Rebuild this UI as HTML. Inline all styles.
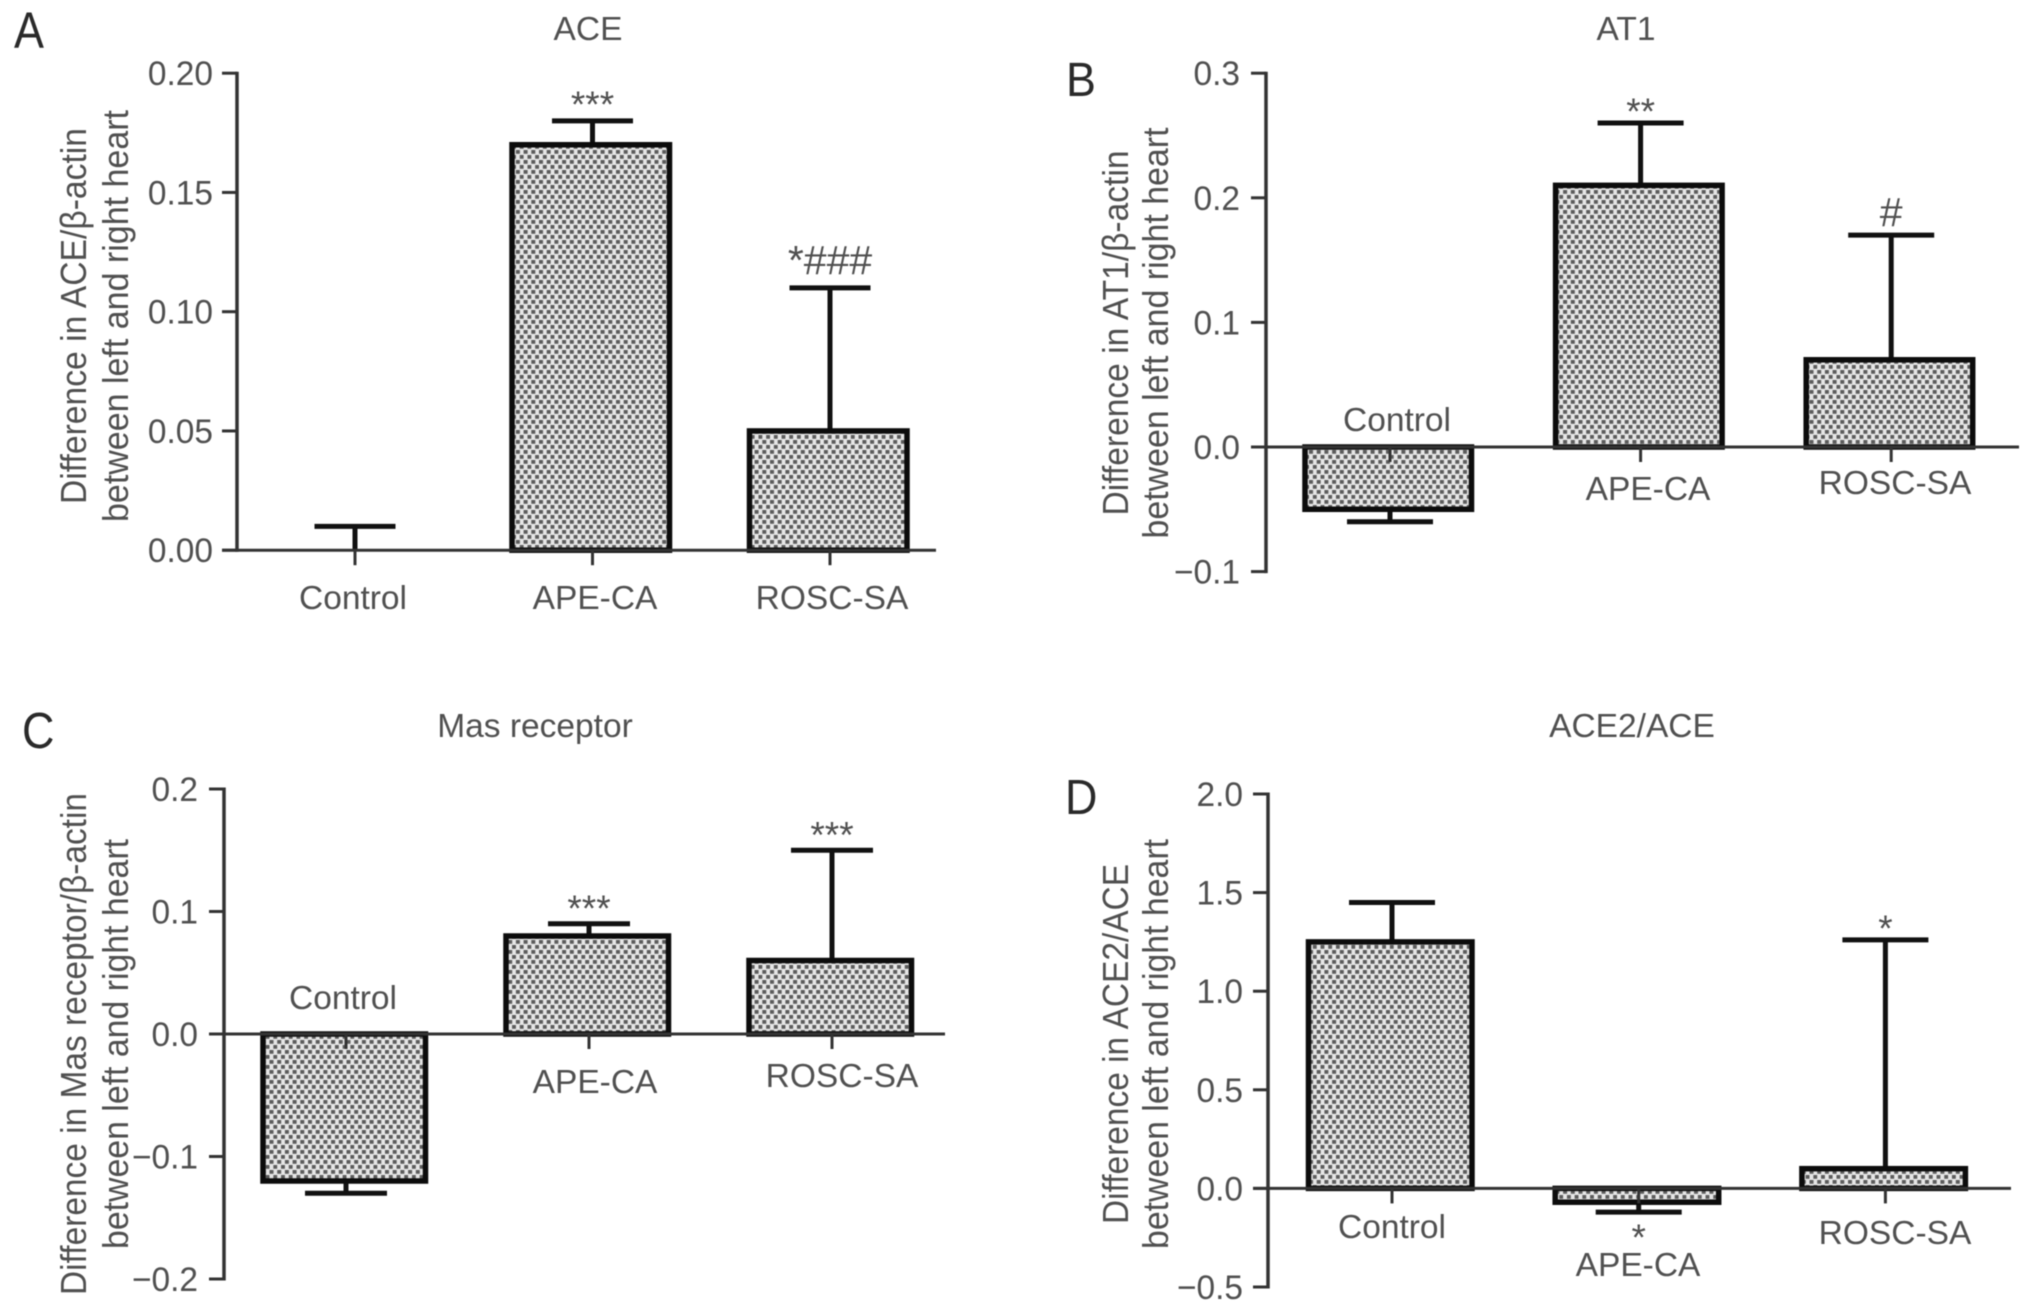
<!DOCTYPE html>
<html lang="en">
<head>
<meta charset="utf-8">
<title>Differences between left and right heart</title>
<style>
html,body{margin:0;padding:0;background:#fff;}
body{width:2032px;height:1311px;overflow:hidden;}
svg{display:block;filter:blur(.6px);}
text{font-family:"Liberation Sans",sans-serif;fill:#505050;}
.lab{font-size:33.5px;text-anchor:middle;}
.ttl{font-size:33.5px;text-anchor:middle;}
.ytitle{font-size:36px;text-anchor:middle;}
.letter{font-size:51px;fill:#2a2a2a;}
</style>
</head>
<body>
<svg id="figure" xmlns="http://www.w3.org/2000/svg" width="2032" height="1311" viewBox="0 0 2032 1311">
<defs>
<pattern id="dots" width="7.7" height="10" patternUnits="userSpaceOnUse">
<rect width="7.7" height="10" fill="#e6e6e6"/>
<rect x="0" y="0" width="4" height="3.8" fill="#5c5c5c"/>
<rect x="3.85" y="5" width="4" height="3.8" fill="#5c5c5c"/>
</pattern>
</defs>
<rect width="2032" height="1311" fill="#fff"/>

<text class="letter" transform="translate(14 48) scale(.88 1)">A</text>
<text class="letter" transform="translate(1066 96) scale(.88 .95)">B</text>
<text class="letter" transform="translate(22 748) scale(.88 1)">C</text>
<text class="letter" transform="translate(1065 814) scale(.88 .97)">D</text>

<text class="ttl" x="588" y="40">ACE</text>
<text class="ttl" x="1626" y="40">AT1</text>
<text class="ttl" x="535" y="737">Mas receptor</text>
<text class="ttl" x="1632" y="737">ACE2/ACE</text>

<text class="ytitle" transform="translate(86 316) rotate(-90)" textLength="376" lengthAdjust="spacingAndGlyphs">Difference in ACE/β-actin</text>
<text class="ytitle" transform="translate(128 316) rotate(-90)" textLength="412" lengthAdjust="spacingAndGlyphs">between left and right heart</text>
<text class="ytitle" transform="translate(1128 333) rotate(-90)" textLength="365" lengthAdjust="spacingAndGlyphs">Difference in AT1/β-actin</text>
<text class="ytitle" transform="translate(1168 333) rotate(-90)" textLength="411" lengthAdjust="spacingAndGlyphs">between left and right heart</text>
<text class="ytitle" transform="translate(86 1044) rotate(-90)" textLength="502" lengthAdjust="spacingAndGlyphs">Difference in Mas receptor/β-actin</text>
<text class="ytitle" transform="translate(128 1044) rotate(-90)" textLength="410" lengthAdjust="spacingAndGlyphs">between left and right heart</text>
<text class="ytitle" transform="translate(1128 1044) rotate(-90)" textLength="360" lengthAdjust="spacingAndGlyphs">Difference in ACE2/ACE</text>
<text class="ytitle" transform="translate(1168 1044) rotate(-90)" textLength="410" lengthAdjust="spacingAndGlyphs">between left and right heart</text>

<text class="lab" x="353" y="609">Control</text>
<text class="lab" x="595" y="609">APE-CA</text>
<text class="lab" x="832" y="609">ROSC-SA</text>
<text class="lab" x="1397" y="431">Control</text>
<text class="lab" x="1648" y="500">APE-CA</text>
<text class="lab" x="1895" y="494">ROSC-SA</text>
<text class="lab" x="343" y="1009">Control</text>
<text class="lab" x="595" y="1093">APE-CA</text>
<text class="lab" x="842" y="1087">ROSC-SA</text>
<text class="lab" x="1392" y="1238">Control</text>
<text class="lab" x="1638" y="1276">APE-CA</text>
<text class="lab" x="1895" y="1244">ROSC-SA</text>
</svg>

<script>
const categories = ['control', 'ape-ca', 'rosc-sa'];

const aceValues = [0, 0.17, 0.05];
const aceErrors = [0.01, 0.01, 0.06];
const aceMarks = ['', '***', '*###'];
const aceTicks = [0, 0.05, 0.10, 0.15, 0.20];
const aceTickLabels = ['0.00', '0.05', '0.10', '0.15', '0.20'];

const at1Values = [-0.05, 0.21, 0.07];
const at1Errors = [0.01, 0.05, 0.10];
const at1Marks = ['', '**', '#'];
const at1Ticks = [-0.1, 0, 0.1, 0.2, 0.3];
const at1TickLabels = ['\u22120.1', '0.0', '0.1', '0.2', '0.3'];

const masValues = [-0.12, 0.08, 0.06];
const masErrors = [0.01, 0.01, 0.09];
const masMarks = ['', '***', '***'];
const masTicks = [-0.2, -0.1, 0, 0.1, 0.2];
const masTickLabels = ['\u22120.2', '\u22120.1', '0.0', '0.1', '0.2'];

const ace2Values = [1.25, -0.07, 0.10];
const ace2Errors = [0.20, 0.05, 1.16];
const ace2Marks = ['', '*', '*'];
const ace2Ticks = [-0.5, 0, 0.5, 1.0, 1.5, 2.0];
const ace2TickLabels = ['\u22120.5', '0.0', '0.5', '1.0', '1.5', '2.0'];

const svg = document.getElementById('figure');
const NS = 'http://www.w3.org/2000/svg';

function make(tag, attrs) {
  const el = document.createElementNS(NS, tag);
  for (const k in attrs) el.setAttribute(k, attrs[k]);
  svg.appendChild(el);
  return el;
}

function drawPanel(id, values, errors, marks, ticks, tickLabels, box) {
  const lo = ticks[0];
  const hi = ticks[ticks.length - 1];
  const yScale = v => box.bottom + (v - lo) / (hi - lo) * (box.top - box.bottom);
  const xScale = i => box.firstCenter + i * box.step;
  const zero = yScale(0);

  values.forEach((v, i) => {
    const cx = xScale(i);
    const dir = v >= 0 ? 1 : -1;
    const capY = yScale(v + dir * errors[i]);

    const stem = make('line', {x1: cx, x2: cx, y1: yScale(v), y2: capY, stroke: '#111', 'stroke-width': 5});
    
    

    const cap = make('line', {x1: cx - box.capHalf, x2: cx + box.capHalf, y1: capY, y2: capY, stroke: '#111', 'stroke-width': 5});
    
    

    const bar = make('rect', {
      x: cx - box.barWidth / 2 - 1.75,
      y: Math.min(yScale(v), zero),
      width: box.barWidth,
      height: Math.abs(yScale(v) - zero),
      fill: 'url(#dots)',
      stroke: '#0c0c0c',
      'stroke-width': 5.5
    });
    
    

    const xTick = make('line', {x1: cx, x2: cx, y1: zero, y2: zero + 15, stroke: '#333', 'stroke-width': 3});
    
    

    if (marks[i]) {
      const hasHash = marks[i].indexOf('#') >= 0;
      const markY = dir > 0 ? capY + (hasHash ? -8 : 2) + box.markShift : capY + 39 + box.markShift;
      const mark = make('text', {x: cx, y: markY, 'text-anchor': 'middle', 'font-size': hasHash ? 41 : 37});
      mark.textContent = marks[i];
      
      
    }
  });

  const xAxis = make('line', {x1: box.axisX - 15, x2: box.xEnd, y1: zero, y2: zero, stroke: '#333', 'stroke-width': 3});
  
  

  const yAxis = make('line', {x1: box.axisX, x2: box.axisX, y1: yScale(hi) - 1.5, y2: yScale(lo) + 1.5, stroke: '#333', 'stroke-width': 3.5});
  
  

  ticks.forEach((t, i) => {
    const y = yScale(t);
    const tick = make('line', {x1: box.axisX - 15, x2: box.axisX, y1: y, y2: y, stroke: '#333', 'stroke-width': 3});
    
    

    const label = make('text', {
      transform: 'translate(' + box.labelRight + ' ' + (y + 12) + ') scale(.97 1)',
      'text-anchor': 'end',
      'font-size': 34.5
    });
    label.textContent = tickLabels[i];
    
    
  });
}

drawPanel('ace', aceValues, aceErrors, aceMarks, aceTicks, aceTickLabels,
  {top: 73.2, bottom: 550.2, axisX: 237, xEnd: 936, firstCenter: 355, step: 237.5, barWidth: 157.5, capHalf: 40.5, labelRight: 213, markShift: -6});
drawPanel('at1', at1Values, at1Errors, at1Marks, at1Ticks, at1TickLabels,
  {top: 73.2, bottom: 571.6, axisX: 1266, xEnd: 2019, firstCenter: 1390, step: 250.6, barWidth: 166.5, capHalf: 43, labelRight: 1240, markShift: -1});
drawPanel('mas', masValues, masErrors, masMarks, masTicks, masTickLabels,
  {top: 789, bottom: 1279, axisX: 224, xEnd: 945, firstCenter: 346, step: 243, barWidth: 162.5, capHalf: 41, labelRight: 198, markShift: -5});
drawPanel('ace2', ace2Values, ace2Errors, ace2Marks, ace2Ticks, ace2TickLabels,
  {top: 794, bottom: 1287, axisX: 1268, xEnd: 2011, firstCenter: 1392, step: 246.7, barWidth: 163.5, capHalf: 43, labelRight: 1243, markShift: -1});
</script>
</body>
</html>
